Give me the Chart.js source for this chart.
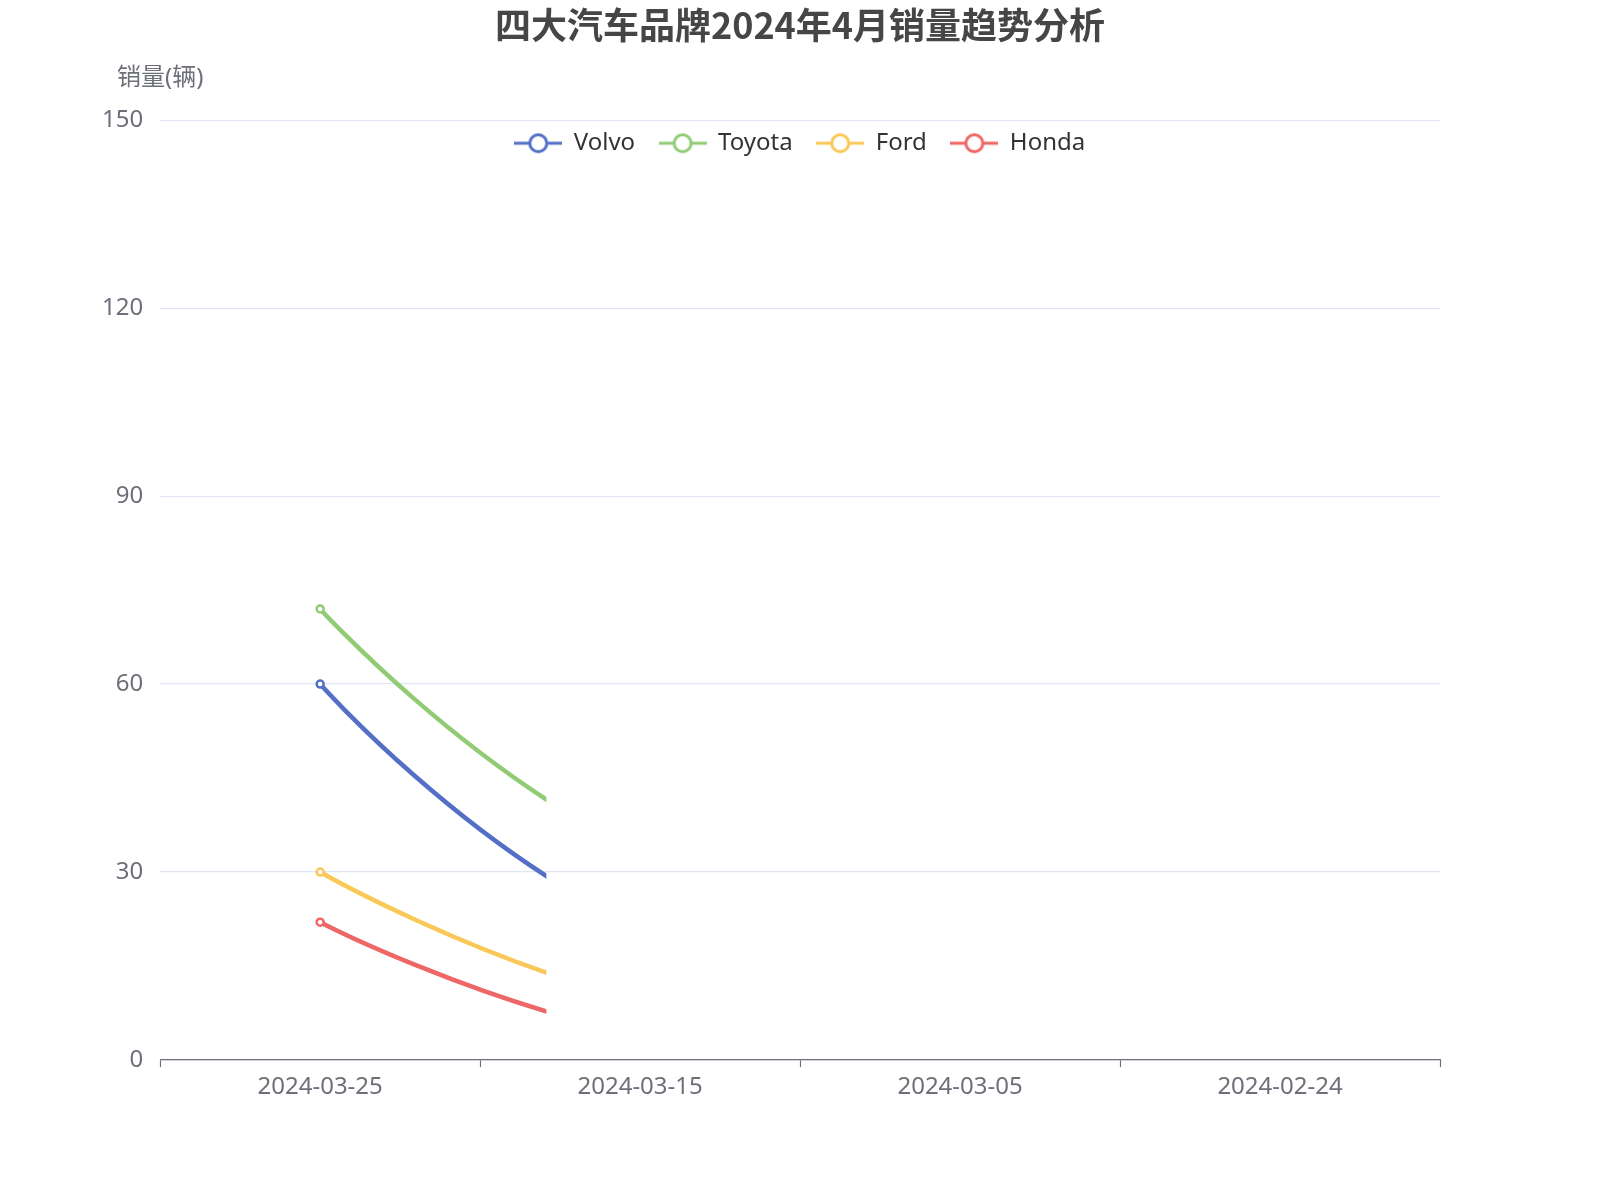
<!DOCTYPE html>
<html>
<head>
<meta charset="utf-8">
<script src="https://cdn.jsdelivr.net/npm/chart.js@4.4.1/dist/chart.umd.min.js"></script>
<style>
  html, body { margin: 0; padding: 0; background: #fff; }
  #wrap { width: 1600px; height: 1200px; position: relative; }
</style>
</head>
<body>
<div id="wrap"><canvas id="salesChart"></canvas></div>
<script>
// chart data
const dates = ['2024-03-25', '2024-03-15', '2024-03-05', '2024-02-24'];
const brands = ['Volvo', 'Toyota', 'Ford', 'Honda'];
const volvoSales = [60, 21, 12, 8];
const toyotaSales = [72, 33, 22, 15];
const fordSales = [30, 9.5, 5, 3];
const hondaSales = [22, 4, 1.5, 1];
const yTicks = [0, 30, 60, 90, 120, 150];

const colors = ['#5470c6', '#91cc75', '#fac858', '#ee6666'];
const FONT = '"Noto Sans", "Noto Sans CJK SC", sans-serif';
// lines are only drawn this far along the category axis (snapshot of the reveal)
const REVEAL = 0.707;

function legendIcon(color) {
    const c = document.createElement('canvas');
    c.width = 48; c.height = 24;
    const g = c.getContext('2d');
    g.strokeStyle = color;
    g.lineWidth = 3;
    g.beginPath(); g.moveTo(0, 12); g.lineTo(48, 12); g.stroke();
    g.beginPath(); g.arc(24, 12, 8.5, 0, Math.PI * 2);
    g.fillStyle = '#fff'; g.fill(); g.stroke();
    return c;
}
const icons = colors.map(legendIcon);

// echarts-like smoothing: the end points keep their own position as control point
const endControl = {
    id: 'endControl',
    beforeDatasetsDraw(chart) {
        chart.data.datasets.forEach((ds, i) => {
            const line = chart.getDatasetMeta(i).dataset;
            line.updateControlPoints(chart.chartArea);
            const pts = line.points;
            if (!pts.length) return;
            const first = pts[0], last = pts[pts.length - 1];
            first.cp2x = first.x; first.cp2y = first.y;
            last.cp1x = last.x; last.cp1y = last.y;
        });
    }
};

const revealClip = {
    id: 'revealClip',
    beforeDatasetsDraw(chart) {
        const { ctx, chartArea } = chart;
        const xEnd = chart.scales.x.getPixelForValue(REVEAL);
        ctx.save();
        ctx.beginPath();
        ctx.rect(chartArea.left - 10, 0, xEnd - chartArea.left + 10, chart.height);
        ctx.clip();
    },
    afterDatasetsDraw(chart) {
        chart.ctx.restore();
    }
};

const axisName = {
    id: 'axisName',
    afterDraw(chart) {
        const { ctx, chartArea } = chart;
        ctx.save();
        ctx.font = '24px ' + FONT;
        ctx.fillStyle = '#6e7079';
        ctx.textAlign = 'center';
        ctx.textBaseline = 'middle';
        ctx.fillText('销量(辆)', chartArea.left, chartArea.top - 42);
        ctx.restore();
    }
};

// legend sits over the top of the plot, so it reserves almost no room;
// title and legend are centred on the whole canvas
const legendOverlap = {
    id: 'legendOverlap',
    beforeInit(chart) {
        const legend = chart.legend;
        const fit = legend.fit;
        legend.fit = function() {
            fit.call(this);
            this._realHeight = this.height;
            this.height = 13;
        };
    },
    afterLayout(chart) {
        const legend = chart.legend;
        legend.height = legend._realHeight;
        legend.bottom = legend.top + legend._realHeight;
        [legend, chart.titleBlock].forEach(box => {
            box.left = 0;
            box.right = chart.width;
            box.width = chart.width;
        });
    }
};

const seriesValues = [volvoSales, toyotaSales, fordSales, hondaSales];

new Chart(document.getElementById('salesChart'), {
    type: 'line',
    data: {
        labels: dates,
        datasets: brands.map((name, i) => ({
            label: name,
            data: seriesValues[i],
            borderColor: colors[i],
            backgroundColor: '#fff',
            borderWidth: 4.5,
            tension: 0.5,
            pointRadius: 3.5,
            pointBorderWidth: 2.5,
            pointBackgroundColor: '#fff',
            pointBorderColor: colors[i],
            fill: false
        }))
    },
    options: {
        responsive: true,
        maintainAspectRatio: false,
        animation: false,
        layout: { padding: { left: 85, right: 160, bottom: 100, top: 0 } },
        plugins: {
            title: {
                display: true,
                text: '四大汽车品牌2024年4月销量趋势分析',
                color: '#464646',
                font: { family: '"Noto Sans CJK SC", sans-serif', size: 36, weight: 'bold' },
                padding: { top: 4, bottom: 60 }
            },
            legend: {
                position: 'top',
                labels: {
                    usePointStyle: true,
                    pointStyleWidth: 47,
                    boxHeight: 24,
                    padding: 24,
                    color: '#333',
                    font: { family: FONT, size: 24 },
                    generateLabels(chart) {
                        const items = Chart.defaults.plugins.legend.labels.generateLabels(chart);
                        items.forEach((it, i) => { it.pointStyle = icons[i]; });
                        return items;
                    }
                }
            },
            tooltip: { enabled: false }
        },
        scales: {
            x: {
                type: 'category',
                offset: true,
                afterFit(scale) { scale.height = 40; },
                grid: {
                    display: true,
                    offset: true,
                    drawOnChartArea: false,
                    drawTicks: true,
                    tickLength: 7,
                    tickWidth: 1.2,
                    color: '#6e7079'
                },
                border: { color: '#6e7079', width: 1.2 },
                ticks: {
                    color: '#6e7079',
                    padding: 6,
                    font: { family: FONT, size: 24 }
                }
            },
            y: {
                min: 0,
                max: 150,
                afterBuildTicks(scale) {
                    scale.ticks = yTicks.map(v => ({ value: v }));
                },
                grid: { color: '#e0e6f1', lineWidth: 1.2, drawTicks: false },
                border: { display: false },
                ticks: {
                    color: '#6e7079',
                    padding: 17,
                    font: { family: FONT, size: 24 }
                }
            }
        }
    },
    plugins: [legendOverlap, endControl, revealClip, axisName]
});
</script>
</body>
</html>
